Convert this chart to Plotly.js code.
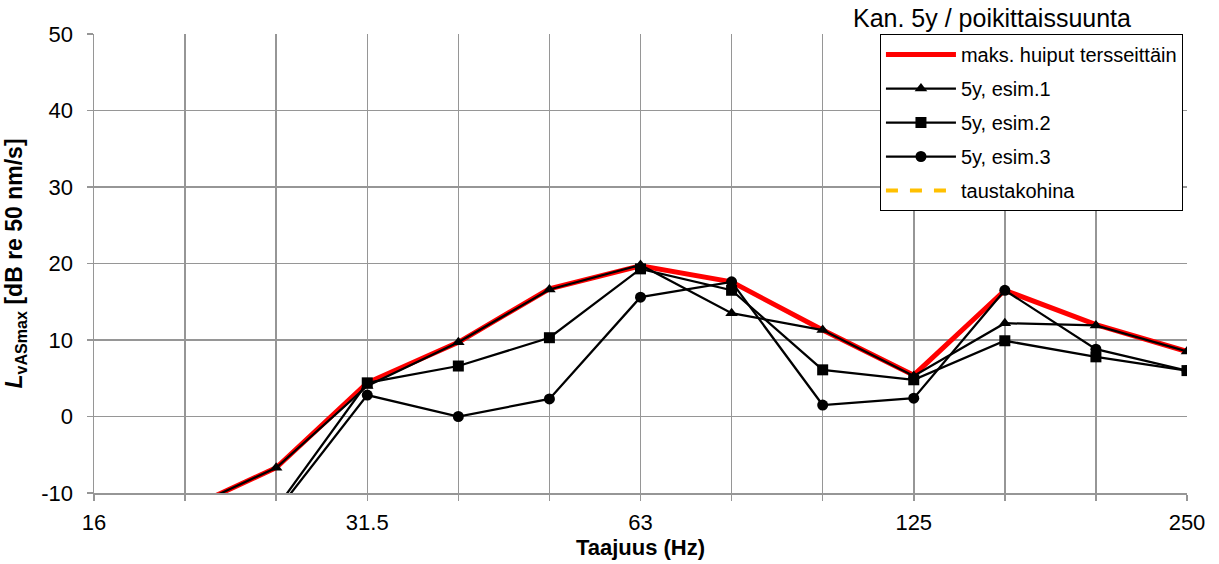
<!DOCTYPE html>
<html>
<head>
<meta charset="utf-8">
<script src="https://cdn.plot.ly/plotly-3.0.1.min.js"></script>
<style>html,body{margin:0;padding:0;background:#fff;}#chart{width:1219px;height:564px;}</style>
</head>
<body>
<div id="chart"></div>
<script>
// 1/3-octave band centre frequencies (Hz)
const freqs = ['16','20','25','31.5','40','50','63','80','100','125','160','200','250'];
const tickLabels = ['16','','','31.5','','','63','','','125','','','250'];
const yTickVals = [-10, 0, 10, 20, 30, 40, 50];
const yTickText = ['-10', '0', '10', '20', '30', '40', '50'];

// Series values (dB re 50 nm/s)
const maxPeaks = [-18, -12.2, -6.7, 4.4, 9.7, 16.7, 19.7, 17.6, 11.3, 5.4, 16.5, 12.0, 8.5];
const esim1    = [-18, -12.2, -6.7, 4.0, 9.7, 16.6, 19.8, 13.5, 11.3, 5.3, 12.2, 11.9, 8.5];
const esim2    = [-22, -20,  -12.0, 4.4, 6.6, 10.3, 19.3, 16.5, 6.1, 4.8, 9.9, 7.8, 6.0];
const esim3    = [-22, -20,  -12.5, 2.8, 0.0, 2.3, 15.6, 17.6, 1.5, 2.4, 16.5, 8.8, 6.0];
const noise    = [-20, -21, -22, -23, -24, -24, -25, -25, -25, -26, -26, -26, -26];

const names = ['maks. huiput tersseittäin','5y, esim.1','5y, esim.2','5y, esim.3','taustakohina'];

const font = 'Arial, "Liberation Sans", sans-serif';

const traces = [
  {x: freqs, y: maxPeaks, name: names[0], mode: 'lines', legendgroup: 'a',
   line: {color: '#FF0000', width: 5}},
  {x: freqs, y: esim1, name: names[1], mode: 'lines+markers', legendgroup: 'b',
   line: {color: '#000000', width: 2.25}, marker: {symbol: 'triangle-up', size: 11, color: '#000'}},
  {x: freqs, y: esim2, name: names[2], mode: 'lines+markers', legendgroup: 'c',
   line: {color: '#000000', width: 2.25}, marker: {symbol: 'square', size: 11, color: '#000'}},
  {x: freqs, y: esim3, name: names[3], mode: 'lines+markers', legendgroup: 'd',
   line: {color: '#000000', width: 2.25}, marker: {symbol: 'circle', size: 11, color: '#000'}},
  {x: freqs, y: noise, name: names[4], mode: 'lines', legendgroup: 'e',
   line: {color: '#FFC000', width: 4, dash: 'dash'}}
];

const layout = {
  width: 1219, height: 564,
  margin: {l: 94, r: 32, t: 34, b: 71},
  paper_bgcolor: '#fff', plot_bgcolor: '#fff',
  font: {family: font, color: '#000'},
  showlegend: true,
  xaxis: {
    type: 'category', categoryorder: 'array', categoryarray: freqs,
    range: [0, 12],
    tickmode: 'array', tickvals: freqs, ticktext: tickLabels,
    showgrid: true, gridcolor: '#969696', gridwidth: 1.5,
    ticks: 'outside', ticklen: 6, tickcolor: '#969696', tickwidth: 1.5,
    showline: true, linecolor: '#969696', linewidth: 1.5,
    zeroline: false,
    tickfont: {size: 22, family: font},
    ticklabelstandoff: 3,
    title: {text: '<b>Taajuus (Hz)</b>', font: {size: 22, family: font}, standoff: 0}
  },
  yaxis: {
    range: [-10, 50],
    tickmode: 'array', tickvals: yTickVals, ticktext: yTickText,
    showgrid: true, gridcolor: '#969696', gridwidth: 1.5,
    ticks: 'outside', ticklen: 6, tickcolor: '#969696', tickwidth: 1.5,
    showline: true, linecolor: '#969696', linewidth: 1.5,
    zeroline: false,
    tickfont: {size: 22, family: font},
    ticklabelstandoff: 9,
    title: {text: '<b><i>L</i><sub>vASmax</sub> [dB re 50 nm/s]</b>', font: {size: 23, family: font}, standoff: 12}
  },
  legend: {
    x: 0.9963, xanchor: 'right', y: 1, yanchor: 'top',
    bgcolor: '#fff', bordercolor: '#000', borderwidth: 1,
    font: {size: 20, family: font},
    traceorder: 'grouped', tracegroupgap: 5,
    itemwidth: 70
  },
  annotations: [{
    text: 'Kan. 5y / poikittaissuunta', xref: 'paper', yref: 'paper',
    x: 0.9506, y: 1, xanchor: 'right', yanchor: 'bottom', yshift: 0,
    showarrow: false, font: {size: 25, family: font}
  }]
};

Plotly.newPlot('chart', traces, layout, {displayModeBar: false, staticPlot: true});
</script>
</body>
</html>
